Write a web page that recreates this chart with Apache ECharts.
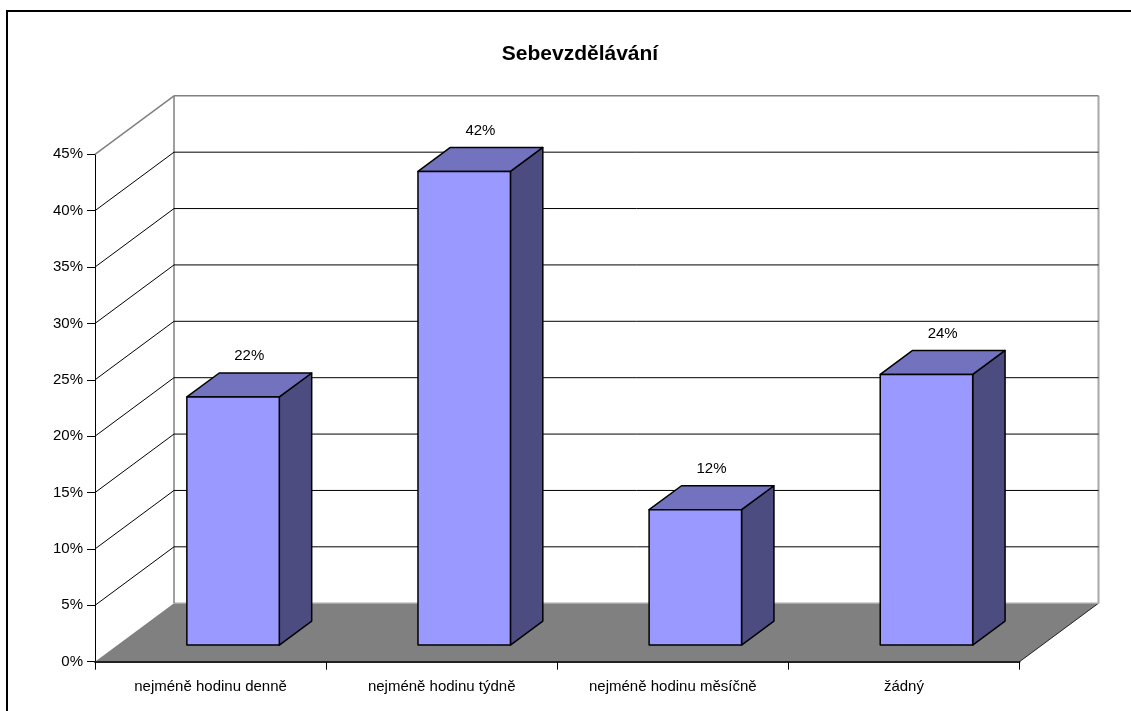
<!DOCTYPE html>
<html>
<head>
<meta charset="utf-8">
<script src="https://cdn.jsdelivr.net/npm/echarts@6/dist/echarts.min.js"></script>
<style>
html,body{margin:0;padding:0;background:#fff;}
#c{width:1131px;height:711px;}
</style>
</head>
<body>
<div id="c"></div>
<script>
const titleText = 'Sebevzdělávání';
const categories = ['nejméně hodinu denně', 'nejméně hodinu týdně', 'nejméně hodinu měsíčně', 'žádný'];
const values = [22, 42, 12, 24];
const yTicks = [0, 5, 10, 15, 20, 25, 30, 35, 40, 45];

const FONT = '"Liberation Sans", Arial, sans-serif';
const DX = 79, DY = -58.5;      // depth of the 3D box
const F0 = 0.285, FD = 0.41;    // bar depth position / thickness (fractions)
const BAR_W = 0.4;              // bar width as fraction of category band

const chart = echarts.init(document.getElementById('c'), null, {renderer: 'canvas'});

function planeX(api, v) {
  const bw = api.size([1, 0])[0];
  const l = api.coord([0, v])[0] - bw / 2;
  const r = api.coord([categories.length - 1, v])[0] + bw / 2;
  return [l, r];
}

const option = {
  animation: false,
  backgroundColor: '#fff',
  title: {
    text: titleText,
    left: 575, top: 39, textAlign: 'center',
    textStyle: {fontFamily: FONT, fontSize: 21, fontWeight: 'bold', color: '#000'}
  },
  grid: {left: 95, right: 111.5, top: 154.3, bottom: 49.3, containLabel: false},
  xAxis: {
    type: 'category', data: categories,
    axisLine: {lineStyle: {color: '#222', width: 2}},
    axisTick: {show: true, length: 8, lineStyle: {color: '#000', width: 1}},
    axisLabel: {interval: 0, fontFamily: FONT, fontSize: 15, color: '#000', margin: 18},
    splitLine: {show: false}, z: 5
  },
  yAxis: {
    type: 'value', min: 0, max: 45, interval: 5,
    axisLine: {show: true, lineStyle: {color: '#000', width: 1}},
    axisTick: {show: true, length: 8, lineStyle: {color: '#000'}},
    axisLabel: {formatter: '{value}%', fontFamily: FONT, fontSize: 15, color: '#000', margin: 12},
    splitLine: {show: false}
  },
  graphic: [{
    type: 'rect', x: 0, y: 0, silent: true, z: 100,
    shape: {x: 7, y: 11, width: 1300, height: 900},
    style: {fill: 'none', stroke: '#000', lineWidth: 2}
  }],
  series: [
    {
      // floor and wall frame
      type: 'custom', z: 1, silent: true,
      data: [[0, yTicks[0]]],
      renderItem: function (params, api) {
        const vMax = yTicks[yTicks.length - 1];
        const [l, r] = planeX(api, api.value(1));
        const y0 = api.coord([0, api.value(1)])[1];
        const yT = api.coord([0, vMax])[1];
        return {type: 'group', children: [
          {type: 'polygon', shape: {points: [[l, y0], [r, y0], [r + DX, y0 + DY], [l + DX, y0 + DY]]},
           style: {fill: '#808080', stroke: null}},
          {type: 'line', shape: {x1: r, y1: y0, x2: r + DX, y2: y0 + DY}, style: {stroke: '#222', lineWidth: 1}},
          {type: 'line', shape: {x1: l + DX, y1: y0 + DY, x2: r + DX, y2: y0 + DY}, style: {stroke: '#a8a8a8', lineWidth: 1.5}},
          {type: 'line', shape: {x1: l + DX, y1: y0 + DY, x2: l + DX, y2: yT + DY}, style: {stroke: '#808080', lineWidth: 1.5}},
          {type: 'line', shape: {x1: r + DX, y1: y0 + DY, x2: r + DX, y2: yT + DY}, style: {stroke: '#a8a8a8', lineWidth: 2}}
        ]};
      }
    },
    {
      // wall gridlines
      type: 'custom', z: 2, silent: true,
      data: yTicks.slice(1).map(v => [0, v]),
      renderItem: function (params, api) {
        const v = api.value(1);
        const isTop = v === yTicks[yTicks.length - 1];
        const [l, r] = planeX(api, v);
        const y = api.coord([0, v])[1];
        const col = isTop ? '#808080' : '#000';
        const w = isTop ? 1.5 : 1;
        return {type: 'group', children: [
          {type: 'line', shape: {x1: l, y1: y, x2: l + DX, y2: y + DY}, style: {stroke: col, lineWidth: w}},
          {type: 'line', shape: {x1: l + DX, y1: y + DY, x2: r + DX, y2: y + DY}, style: {stroke: col, lineWidth: w}}
        ]};
      }
    },
    {
      // 3D bars
      type: 'custom', z: 3,
      data: values.map((v, i) => [i, v]),
      renderItem: function (params, api) {
        const i = api.value(0), v = api.value(1);
        const base = api.coord([i, 0]);
        const top = api.coord([i, v]);
        const bw = api.size([1, 0])[0] * BAR_W;
        const x0 = base[0] - bw / 2 + F0 * DX;
        const yb = base[1] + F0 * DY;
        const yt = top[1] + F0 * DY;
        const dx = FD * DX, dy = FD * DY;
        const st = {stroke: '#000', lineWidth: 1.5, lineJoin: 'round'};
        return {type: 'group', children: [
          {type: 'polygon', shape: {points: [[x0 + bw, yt], [x0 + bw, yb], [x0 + bw + dx, yb + dy], [x0 + bw + dx, yt + dy]]},
           style: Object.assign({fill: '#4c4c80'}, st)},
          {type: 'polygon', shape: {points: [[x0, yt], [x0 + bw, yt], [x0 + bw + dx, yt + dy], [x0 + dx, yt + dy]]},
           style: Object.assign({fill: '#7272bf'}, st)},
          {type: 'rect', shape: {x: x0, y: yt, width: bw, height: yb - yt},
           style: Object.assign({fill: '#9999ff'}, st)},
          {type: 'text', x: x0 + bw / 2 + dx / 2, y: yt + dy - 17,
           style: {text: v + '%', fill: '#000', font: '15px ' + FONT, textAlign: 'center', textVerticalAlign: 'middle'}}
        ]};
      }
    }
  ]
};
chart.setOption(option);
</script>
</body>
</html>
